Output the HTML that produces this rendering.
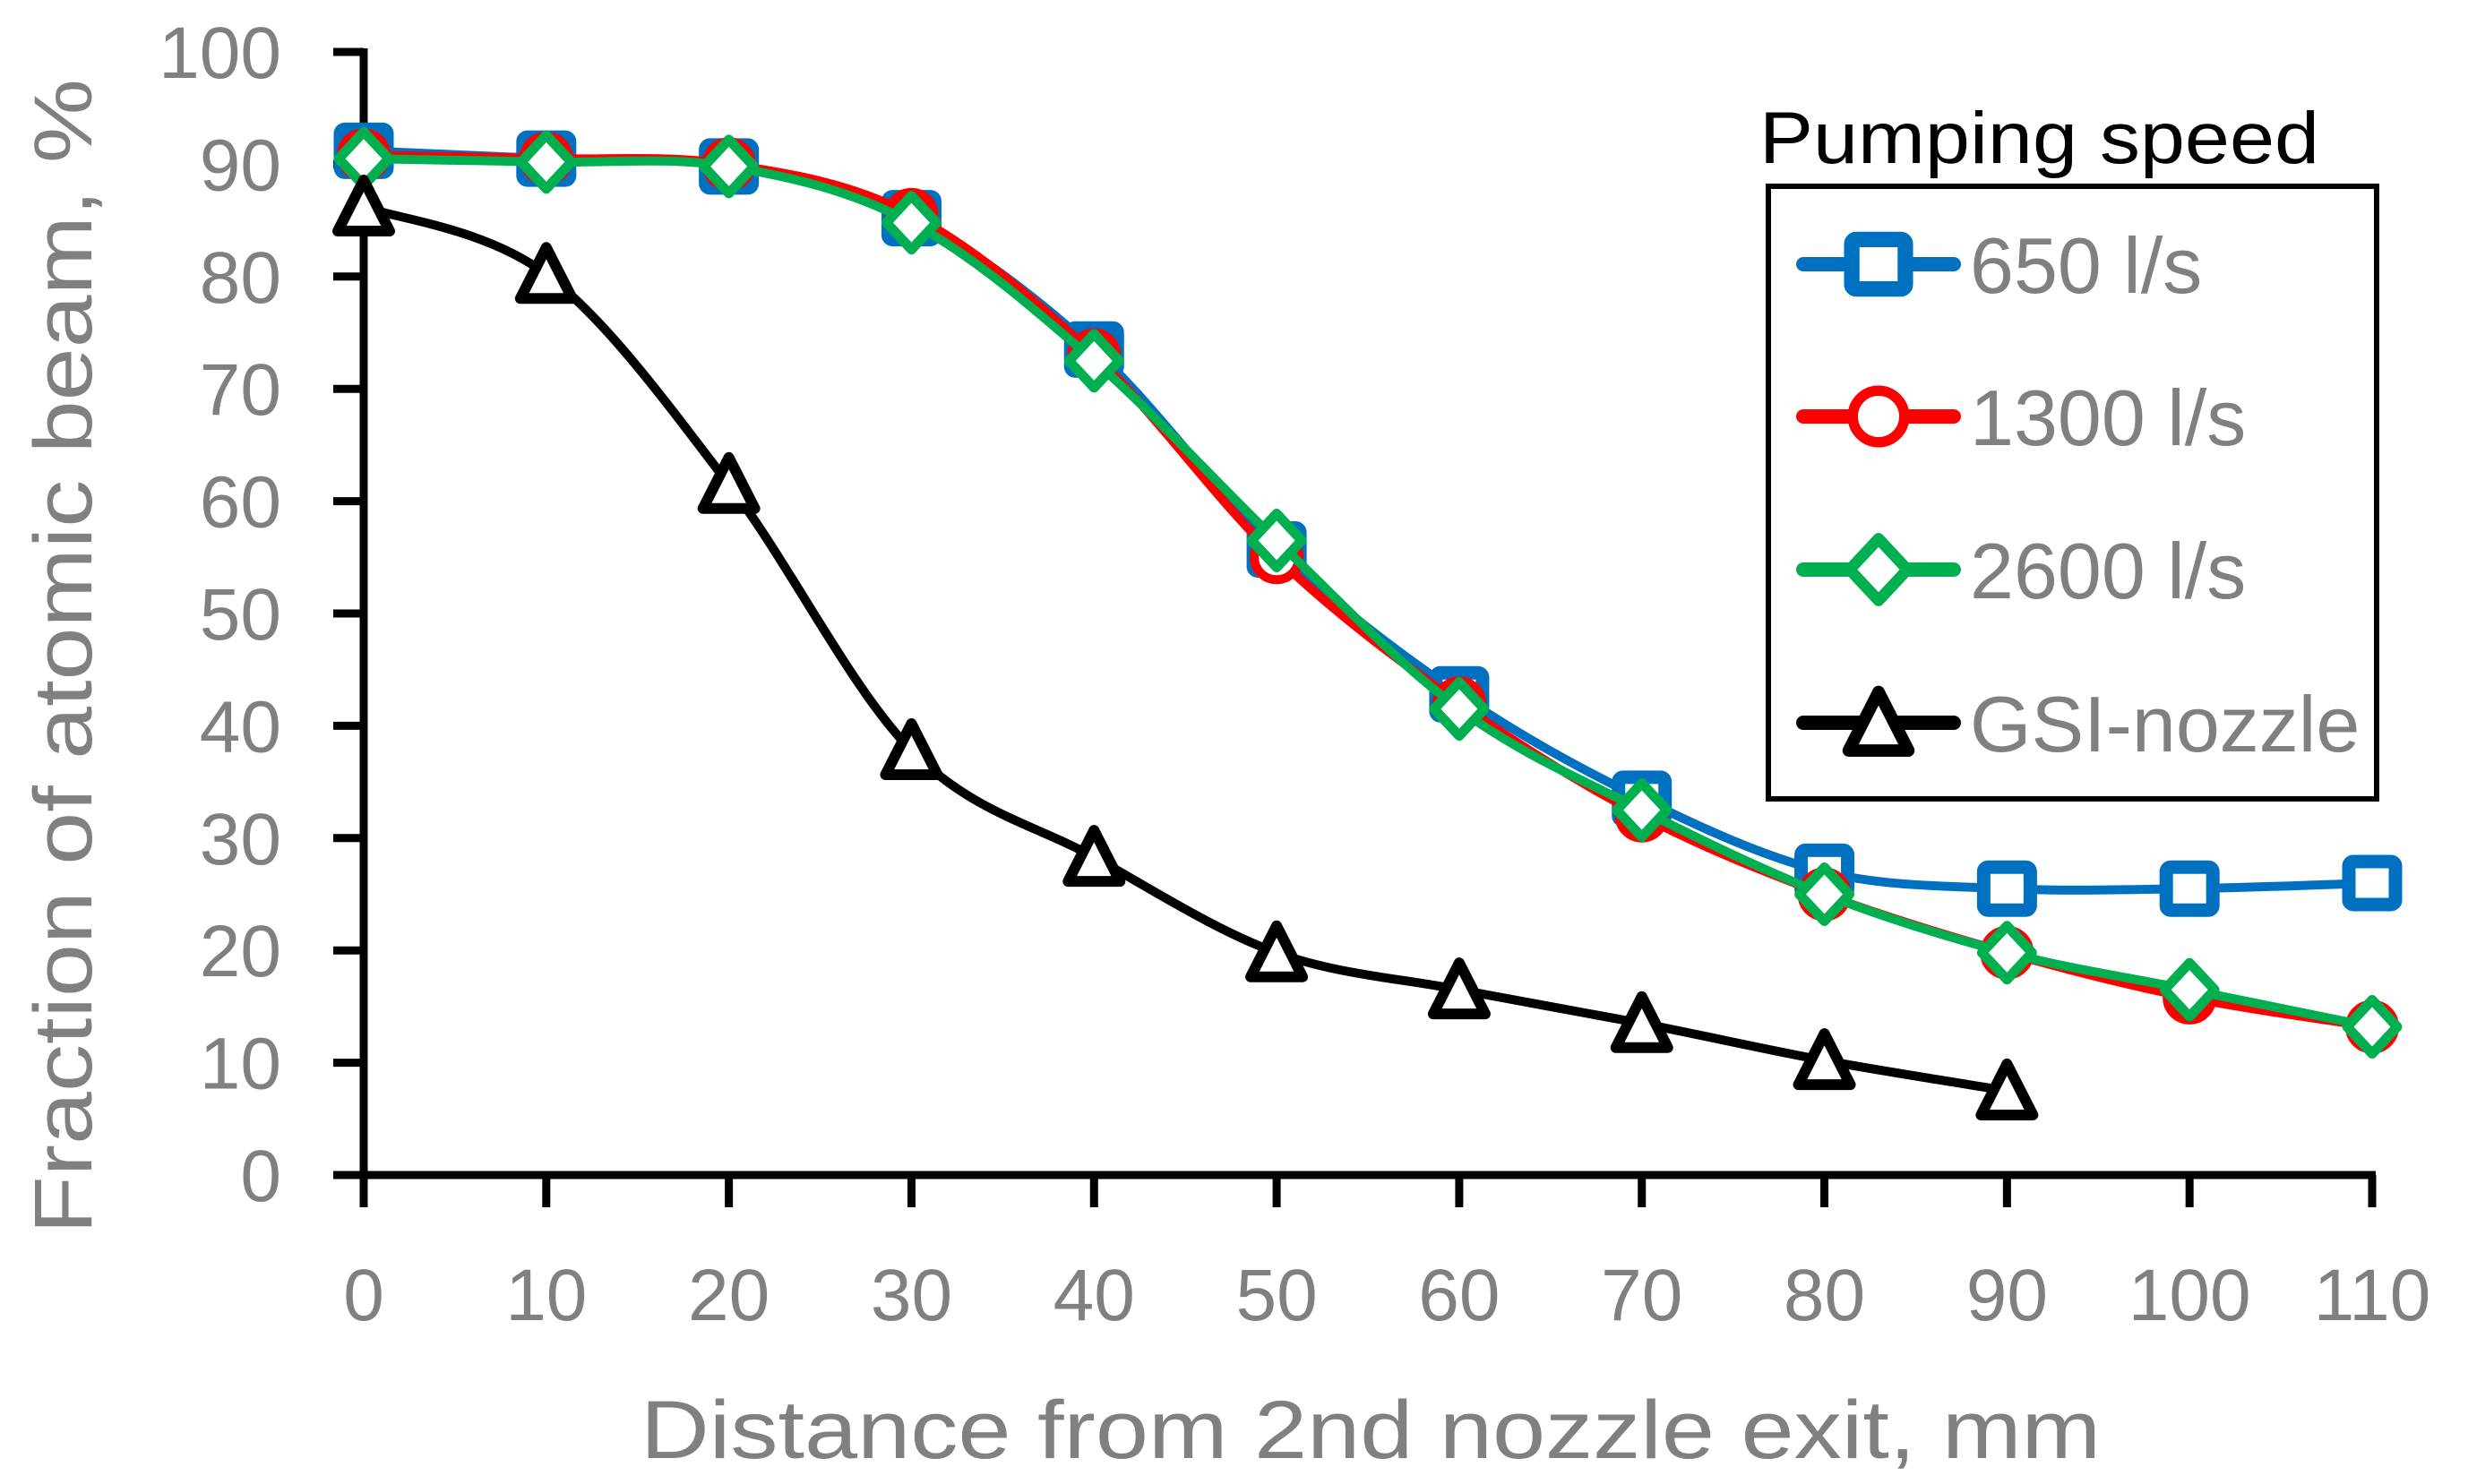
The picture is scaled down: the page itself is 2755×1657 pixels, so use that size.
<!DOCTYPE html>
<html><head><meta charset="utf-8"><style>
html,body{margin:0;padding:0;background:#fff;}
svg{display:block;font-family:"Liberation Sans",sans-serif;}
</style></head><body>
<svg id="chart" width="2755" height="1657" viewBox="0 0 2755 1657" xmlns="http://www.w3.org/2000/svg">
<rect width="2755" height="1657" fill="#fff"/>
<g id="grid"></g>
<g id="series"></g>
<g id="legend"></g>
</svg>
<script>
const xCats = [0,10,20,30,40,50,60,70,80,90,100,110];
const yTicks = [0,10,20,30,40,50,60,70,80,90,100];
const s650  = [91.2,90.5,89.8,85.2,73.5,55.7,42.8,33.5,27.0,25.5,25.5,26.0];
const s1300 = [90.8,90.5,90.0,85.5,73.0,55.0,42.0,32.0,25.0,19.8,15.8,13.2];
const s2600 = [90.5,90.2,89.8,84.8,72.5,56.5,41.5,32.5,25.0,19.8,16.5,13.2];
const sGSI  = [86.2,80.2,61.5,37.8,28.3,19.8,16.5,13.5,10.2,7.5];
const seriesNames = ["650 l/s","1300 l/s","2600 l/s","GSI-nozzle"];

const NS="http://www.w3.org/2000/svg";
const X0=406,X1=2648,Y0=1312,Y1=58;
const xs=v=>X0+(v-0)/(110-0)*(X1-X0);
const ys=v=>Y0-(v-0)/(100-0)*(Y0-Y1);
function mk(tag,attrs,parent){const e=document.createElementNS(NS,tag);for(const k in attrs)e.setAttribute(k,attrs[k]);parent.appendChild(e);return e;}
const grid=document.getElementById('grid'),ser=document.getElementById('series'),leg=document.getElementById('legend');

let ya=mk('line',{x1:X0,y1:Y1-4,x2:X0,y2:Y0+5,stroke:'#000','stroke-width':9},grid);


let xa=mk('line',{x1:X0-4,y1:Y0,x2:X1+4,y2:Y0,stroke:'#000','stroke-width':9},grid);


yTicks.forEach(v=>{
  let t=mk('line',{x1:X0-34,y1:ys(v),x2:X0,y2:ys(v),stroke:'#000','stroke-width':9},grid);
  
  
  let l=mk('text',{x:314,y:ys(v)+29,'text-anchor':'end','font-size':82,fill:'#808080'},grid);
  l.textContent=v;
  
  
});
xCats.forEach(v=>{
  let t=mk('line',{x1:xs(v),y1:Y0,x2:xs(v),y2:Y0+36,stroke:'#000','stroke-width':9},grid);
  
  
  let l=mk('text',{x:xs(v),y:1474,'text-anchor':'middle','font-size':82,fill:'#808080'},grid);
  l.textContent=v;
  
  
});
let xt=mk('text',{x:1530,y:1628,'text-anchor':'middle','font-size':92,fill:'#808080',textLength:1630,lengthAdjust:'spacingAndGlyphs'},grid);
xt.textContent='Distance from 2nd nozzle exit, mm';


let yt=mk('text',{x:0,y:0,'text-anchor':'middle','font-size':92,fill:'#808080',textLength:1290,lengthAdjust:'spacingAndGlyphs',transform:'translate(102,733) rotate(-90)'},grid);
yt.textContent='Fraction of atomic beam, %';



function smooth(pts){
  let d=`M${pts[0][0]},${pts[0][1]}`;
  for(let i=0;i<pts.length-1;i++){
    const p0=pts[i-1]||pts[i],p1=pts[i],p2=pts[i+1],p3=pts[i+2]||p2;
    const c1=[p1[0]+(p2[0]-p0[0])/6,p1[1]+(p2[1]-p0[1])/6];
    const c2=[p2[0]-(p3[0]-p1[0])/6,p2[1]-(p3[1]-p1[1])/6];
    d+=` C${c1[0]},${c1[1]} ${c2[0]},${c2[1]} ${p2[0]},${p2[1]}`;
  }
  return d;
}
function marker(type,cx,cy,color,parent,sz){
  sz=sz||1;
  let m;
  if(type==='sq') m=mk('rect',{x:cx-26*sz,y:cy-24*sz,width:52*sz,height:48*sz,rx:5,fill:'#fff',stroke:color,'stroke-width':15*sz},parent);
  else if(type==='ci') m=mk('circle',{cx:cx,cy:cy,r:25*sz,fill:'#fff',stroke:color,'stroke-width':10*sz},parent);
  else if(type==='di') m=mk('polygon',{points:`${cx},${cy-30*sz} ${cx+28*sz},${cy} ${cx},${cy+30*sz} ${cx-28*sz},${cy}`,fill:'#fff',stroke:color,'stroke-width':11*sz,'stroke-linejoin':'round'},parent);
  else m=mk('polygon',{points:`${cx},${cy-30*sz} ${cx+29*sz},${cy+27*sz} ${cx-29*sz},${cy+27*sz}`,fill:'#fff',stroke:color,'stroke-width':12*sz,'stroke-linejoin':'round'},parent);
  return m;
}
const defs=[[s650,'#0070C0','sq','series-650'],[s1300,'#FF0000','ci','series-1300'],[s2600,'#00B050','di','series-2600'],[sGSI,'#000000','tr','series-gsi']];
defs.forEach(([data,color,type,name])=>{
  const g=mk('g',{},ser);
  
  
  const pts=data.map((v,i)=>[xs(xCats[i]),ys(v)]);
  const p=mk('path',{d:smooth(pts),fill:'none',stroke:color,'stroke-width':10,'stroke-linecap':'round'},g);
  
  
  pts.forEach(pt=>{
    const m=marker(type,pt[0],pt[1],color,g);
    
    
  });
});

let lt=mk('text',{x:1964,y:182,'font-size':82,fill:'#000',textLength:625,lengthAdjust:'spacingAndGlyphs'},leg);
lt.textContent='Pumping speed';


let lb=mk('rect',{x:1974,y:208,width:679,height:684,fill:'#fff',stroke:'#000','stroke-width':6},leg);


const legY=[295,465,636,807];
defs.forEach(([data,color,type,name],i)=>{
  const y=legY[i];
  const g=mk('g',{},leg);
  
  
  mk('line',{x1:2013,y1:y,x2:2181,y2:y,stroke:color,'stroke-width':16,'stroke-linecap':'round'},g);
  marker(type,2097,y,color,g,1.15);
  const t=mk('text',{x:2199,y:y+32,'font-size':88,fill:'#808080'},g);
  t.textContent=seriesNames[i];
  
  
});
</script>
</body></html>
